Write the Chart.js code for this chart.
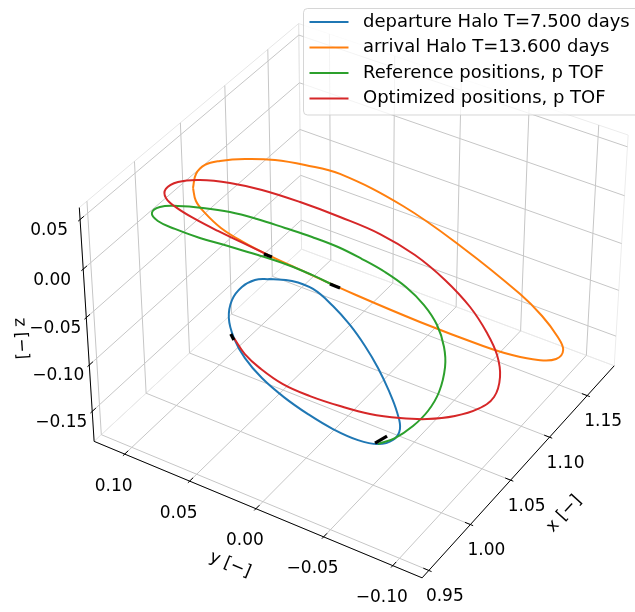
<!DOCTYPE html>
<html>
<head>
<meta charset="utf-8">
<script src="https://cdn.jsdelivr.net/npm/chart.js@4.4.0/dist/chart.umd.min.js"></script>
<style>
  html, body { margin: 0; padding: 0; background: #fff; }
  canvas { display: block; }
</style>
</head>
<body>
<canvas id="orbitChart" width="635" height="612"></canvas>
<script>
// axis ticks and limits
const xTicks = [0.95, 1.0, 1.05, 1.1, 1.15];
const yTicks = [-0.1, -0.05, 0.0, 0.05, 0.1];
const zTicks = [-0.15, -0.1, -0.05, 0.0, 0.05];
const xLim = [0.947, 1.182];
const yLim = [-0.116, 0.119];
const zLim = [-0.178, 0.057];

// departure halo T=7.5 days
const depX = [1.0204, 1.0306, 1.0379, 1.0411, 1.0420, 1.0411, 1.0388, 1.0351, 1.0307, 1.0254, 1.0175, 1.0084, 1.0000, 0.9919, 0.9854, 0.9802, 0.9768, 0.9763, 0.9788, 0.9843, 0.9930, 1.0032, 1.0125];
const depY = [0.0386, 0.0290, 0.0181, 0.0054, -0.0066, -0.0183, -0.0294, -0.0398, -0.0485, -0.0540, -0.0537, -0.0483, -0.0388, -0.0255, -0.0113, 0.0030, 0.0168, 0.0288, 0.0384, 0.0456, 0.0489, 0.0482, 0.0446];
const depZ = [-0.0313, -0.0368, -0.0456, -0.0594, -0.0737, -0.0888, -0.1040, -0.1194, -0.1331, -0.1434, -0.1481, -0.1471, -0.1405, -0.1288, -0.1150, -0.1003, -0.0849, -0.0702, -0.0567, -0.0446, -0.0352, -0.0300, -0.0287];

// arrival halo T=13.6 days
const arrX = [1.0183, 1.0254, 1.0335, 1.0426, 1.0559, 1.0705, 1.0835, 1.0974, 1.1161, 1.1293, 1.1394, 1.1416, 1.1411, 1.1385, 1.1314, 1.1220, 1.1110, 1.1001, 1.0782, 1.0570, 1.0378, 1.0290, 1.0217, 1.0163, 1.0143, 1.0146];
const arrY = [0.0934, 0.0958, 0.0945, 0.0893, 0.0795, 0.0667, 0.0528, 0.0355, 0.0000, -0.0371, -0.0743, -0.0897, -0.1015, -0.1077, -0.1066, -0.0986, -0.0855, -0.0702, -0.0362, -0.0017, 0.0306, 0.0456, 0.0592, 0.0718, 0.0822, 0.0889];
const arrZ = [0.0357, 0.0430, 0.0464, 0.0458, 0.0422, 0.0360, 0.0275, 0.0159, -0.0145, -0.0503, -0.0883, -0.1055, -0.1203, -0.1298, -0.1339, -0.1311, -0.1232, -0.1122, -0.0859, -0.0577, -0.0302, -0.0172, -0.0048, 0.0075, 0.0192, 0.0277];

// reference transfer
const refX = [1.0084, 1.0193, 1.0331, 1.0466, 1.0597, 1.0727, 1.0802, 1.0855, 1.0870, 1.0852, 1.0807, 1.0744, 1.0672, 1.0582, 1.0483, 1.0379, 1.0272, 1.0153, 1.0036, 0.9942, 0.9878, 0.9876, 0.9929, 1.0018, 1.0126, 1.0240, 1.0350, 1.0430, 1.0495];
const refY = [-0.0483, -0.0541, -0.0589, -0.0617, -0.0619, -0.0584, -0.0530, -0.0445, -0.0338, -0.0214, -0.0085, 0.0047, 0.0180, 0.0316, 0.0453, 0.0593, 0.0722, 0.0843, 0.0949, 0.1018, 0.1034, 0.0990, 0.0901, 0.0778, 0.0643, 0.0497, 0.0347, 0.0221, 0.0106];
const refZ = [-0.1471, -0.1474, -0.1444, -0.1390, -0.1303, -0.1171, -0.1052, -0.0910, -0.0768, -0.0628, -0.0500, -0.0380, -0.0264, -0.0156, -0.0052, 0.0054, 0.0147, 0.0224, 0.0285, 0.0316, 0.0299, 0.0242, 0.0163, 0.0061, -0.0041, -0.0152, -0.0269, -0.0374, -0.0473];

// optimized transfer
const optX = [0.9788, 0.9779, 0.9798, 0.9849, 0.9936, 1.0046, 1.0164, 1.0298, 1.0429, 1.0581, 1.0724, 1.0852, 1.0962, 1.1035, 1.1073, 1.1092, 1.1075, 1.1025, 1.0934, 1.0802, 1.0662, 1.0520, 1.0388, 1.0250, 1.0132, 1.0044, 1.0008, 1.0023, 1.0069, 1.0136, 1.0213, 1.0290];
const optY = [0.0384, 0.0299, 0.0202, 0.0067, -0.0076, -0.0227, -0.0374, -0.0513, -0.0633, -0.0748, -0.0833, -0.0876, -0.0854, -0.0787, -0.0688, -0.0548, -0.0369, -0.0174, 0.0031, 0.0247, 0.0455, 0.0646, 0.0796, 0.0927, 0.1010, 0.1041, 0.1017, 0.0948, 0.0847, 0.0723, 0.0590, 0.0456];
const optZ = [-0.0567, -0.0680, -0.0790, -0.0929, -0.1054, -0.1175, -0.1284, -0.1371, -0.1434, -0.1475, -0.1481, -0.1443, -0.1338, -0.1203, -0.1053, -0.0867, -0.0660, -0.0457, -0.0268, -0.0093, 0.0069, 0.0211, 0.0313, 0.0388, 0.0420, 0.0405, 0.0354, 0.0276, 0.0178, 0.0064, -0.0054, -0.0172];

// short black segments at departure / arrival points (pairs)
const markX = [1.0274, 1.0302, 1.0484, 1.0518, 0.9789, 0.9780, 1.0073, 1.0161];
const markY = [0.0475, 0.0434, 0.0122, 0.0069, 0.0407, 0.0379, -0.0468, -0.0502];
const markZ = [-0.0159, -0.0192, -0.0462, -0.0505, -0.0539, -0.0578, -0.1459, -0.1445];

// view
const elevDeg = 37, azimDeg = -148, eyeDist = 10;
const boxAspect = [8 / 7, 8 / 7, 6 / 7];
const view = { left: -0.109985, right: 0.0851, bottom: -0.098925, top: 0.089094 };

const el = elevDeg * Math.PI / 180, az = azimDeg * Math.PI / 180;
const w = [Math.cos(el) * Math.cos(az), Math.cos(el) * Math.sin(az), Math.sin(el)];
const u = [-Math.sin(az), Math.cos(az), 0];
const v = [w[1] * u[2] - w[2] * u[1], w[2] * u[0] - w[0] * u[2], w[0] * u[1] - w[1] * u[0]];

function project(x, y, z) {
  const b = [
    ((x - xLim[0]) / (xLim[1] - xLim[0]) - 0.5) * boxAspect[0],
    ((y - yLim[0]) / (yLim[1] - yLim[0]) - 0.5) * boxAspect[1],
    ((z - zLim[0]) / (zLim[1] - zLim[0]) - 0.5) * boxAspect[2],
  ];
  const dot = (a) => a[0] * b[0] + a[1] * b[1] + a[2] * b[2];
  const depth = eyeDist - dot(w);
  return { x: dot(u) / depth, y: dot(v) / depth };
}

function toPoints(xs, ys, zs, closed) {
  const pts = xs.map((x, i) => project(x, ys[i], zs[i]));
  if (closed) pts.push(pts[0]);
  return pts;
}

const colors = { blue: "#1f77b4", orange: "#ff7f0e", green: "#2ca02c", red: "#d62728" };

function curve(label, color, pts, order) {
  return {
    label: label,
    data: pts,
    showLine: true,
    borderColor: color,
    backgroundColor: color,
    borderWidth: 2,
    pointRadius: 0,
    tension: 0.4,
    order: order,
  };
}

const datasets = [
  curve("departure Halo T=7.500 days", colors.blue, toPoints(depX, depY, depZ, true), 4),
  curve("arrival Halo T=13.600 days", colors.orange, toPoints(arrX, arrY, arrZ, true), 3),
  curve("Reference positions, p TOF", colors.green, toPoints(refX, refY, refZ, false), 2),
  curve("Optimized positions, p TOF", colors.red, toPoints(optX, optY, optZ, false), 1),
];
for (let i = 0; i < markX.length; i += 2) {
  const seg = curve("", "#000000", toPoints(markX.slice(i, i + 2), markY.slice(i, i + 2), markZ.slice(i, i + 2), false), 0);
  seg.borderWidth = 3.2;
  seg.tension = 0;
  datasets.push(seg);
}

// extended box (panes sit slightly outside the limits)
const ext = (lim) => [lim[0] - (lim[1] - lim[0]) / 48, lim[1] + (lim[1] - lim[0]) / 48];
const xE = ext(xLim), yE = ext(yLim), zE = ext(zLim);
const dX = (xLim[1] - xLim[0]) / 12, dY = (yLim[1] - yLim[0]) / 12;

function pix(chart, p3) {
  const p = project(p3[0], p3[1], p3[2]);
  return [chart.scales.x.getPixelForValue(p.x), chart.scales.y.getPixelForValue(p.y)];
}
function seg3(chart, ctx, a, b) {
  const pa = pix(chart, a), pb = pix(chart, b);
  ctx.beginPath();
  ctx.moveTo(pa[0], pa[1]);
  ctx.lineTo(pb[0], pb[1]);
  ctx.stroke();
}
function poly3(chart, ctx, corners, edge) {
  ctx.beginPath();
  corners.forEach((c, i) => {
    const p = pix(chart, c);
    if (i === 0) ctx.moveTo(p[0], p[1]); else ctx.lineTo(p[0], p[1]);
  });
  ctx.closePath();
  ctx.strokeStyle = edge;
  ctx.lineWidth = 1;
  ctx.stroke();
}
const fmt = (t) => t.toFixed(2).replace("-", "\u2212");

const boxPlugin = {
  id: "box3d",
  beforeDatasetsDraw(chart) {
    const ctx = chart.ctx;
    ctx.save();
    // pane outlines
    poly3(chart, ctx, [[xE[1], yE[0], zE[0]], [xE[1], yE[1], zE[0]], [xE[1], yE[1], zE[1]], [xE[1], yE[0], zE[1]]], "#ececec");
    poly3(chart, ctx, [[xE[0], yE[1], zE[0]], [xE[1], yE[1], zE[0]], [xE[1], yE[1], zE[1]], [xE[0], yE[1], zE[1]]], "#e6e6e6");
    poly3(chart, ctx, [[xE[0], yE[0], zE[0]], [xE[1], yE[0], zE[0]], [xE[1], yE[1], zE[0]], [xE[0], yE[1], zE[0]]], "#e9e9e9");
    // grid
    ctx.strokeStyle = "#c6c6c6";
    ctx.lineWidth = 1;
    xTicks.forEach((t) => {
      seg3(chart, ctx, [t, yE[0], zE[0]], [t, yE[1], zE[0]]);
      seg3(chart, ctx, [t, yE[1], zE[0]], [t, yE[1], zE[1]]);
    });
    yTicks.forEach((t) => {
      seg3(chart, ctx, [xE[0], t, zE[0]], [xE[1], t, zE[0]]);
      seg3(chart, ctx, [xE[1], t, zE[0]], [xE[1], t, zE[1]]);
    });
    zTicks.forEach((t) => {
      seg3(chart, ctx, [xE[1], yE[0], t], [xE[1], yE[1], t]);
      seg3(chart, ctx, [xE[0], yE[1], t], [xE[1], yE[1], t]);
    });
    // axis lines and ticks
    ctx.strokeStyle = "#000";
    ctx.lineWidth = 1;
    seg3(chart, ctx, [xE[0], yE[0], zE[0]], [xE[1], yE[0], zE[0]]);
    seg3(chart, ctx, [xE[0], yE[0], zE[0]], [xE[0], yE[1], zE[0]]);
    seg3(chart, ctx, [xE[0], yE[1], zE[0]], [xE[0], yE[1], zE[1]]);
    xTicks.forEach((t) => seg3(chart, ctx, [t, yE[0] - 0.1 * dY, zE[0]], [t, yE[0] + 0.2 * dY, zE[0]]));
    yTicks.forEach((t) => seg3(chart, ctx, [xE[0] - 0.1 * dX, t, zE[0]], [xE[0] + 0.2 * dX, t, zE[0]]));
    zTicks.forEach((t) => seg3(chart, ctx, [xE[0] - 0.1 * dX, yE[1], t], [xE[0] + 0.2 * dX, yE[1], t]));
    ctx.restore();
  },
  afterDraw(chart) {
    const ctx = chart.ctx;
    ctx.save();
    ctx.fillStyle = "#000";
    ctx.font = '17px "DejaVu Sans"';
    ctx.textAlign = "center";
    ctx.textBaseline = "middle";
    xTicks.forEach((t) => {
      const p = pix(chart, [t, yE[0], zE[0]]);
      ctx.fillText(fmt(t), p[0] + 16, p[1] + 26);
    });
    yTicks.forEach((t) => {
      const p = pix(chart, [xE[0], t, zE[0]]);
      ctx.fillText(fmt(t), p[0] - 11, p[1] + 32);
    });
    zTicks.forEach((t) => {
      const p = pix(chart, [xE[0], yE[1], t]);
      ctx.fillText(fmt(t), p[0] - 31, p[1] + 11);
    });
    // axis titles, rotated along their axis
    const axisTitle = (text, a, b, ox, oy) => {
      const pa = pix(chart, a), pb = pix(chart, b);
      let ang = Math.atan2(pb[1] - pa[1], pb[0] - pa[0]);
      if (ang > Math.PI / 2) ang -= Math.PI;
      if (ang < -Math.PI / 2) ang += Math.PI;
      ctx.save();
      ctx.translate((pa[0] + pb[0]) / 2 + ox, (pa[1] + pb[1]) / 2 + oy);
      ctx.rotate(ang);
      ctx.fillText(text, 0, 0);
      ctx.restore();
    };
    axisTitle("x [\u2212]", [xE[0], yE[0], zE[0]], [xE[1], yE[0], zE[0]], 46, 42);
    axisTitle("y [\u2212]", [xE[0], yE[0], zE[0]], [xE[0], yE[1], zE[0]], -28, 55);
    axisTitle("z [\u2212]", [xE[0], yE[1], zE[0]], [xE[0], yE[1], zE[1]], -66, 14);
    // legend
    const left = 303.5, top = 8.5, rowH = 25.5;
    ctx.beginPath();
    ctx.roundRect(left, top, 345, 106.5, 4);
    ctx.fillStyle = "rgba(255,255,255,0.8)";
    ctx.fill();
    ctx.strokeStyle = "rgba(204,204,204,0.8)";
    ctx.lineWidth = 1;
    ctx.stroke();
    ctx.textAlign = "left";
    ctx.font = '18px "DejaVu Sans"';
    chart.data.datasets.slice(0, 4).forEach((ds, i) => {
      const y = top + 13.5 + i * rowH;
      ctx.strokeStyle = ds.borderColor;
      ctx.lineWidth = 2;
      ctx.beginPath();
      ctx.moveTo(left + 6, y);
      ctx.lineTo(left + 45, y);
      ctx.stroke();
      ctx.fillStyle = "#000";
      ctx.fillText(ds.label, left + 59.5, y);
    });
    ctx.restore();
  },
};

new Chart(document.getElementById("orbitChart"), {
  type: "scatter",
  data: { datasets: datasets },
  options: {
    responsive: false,
    animation: false,
    devicePixelRatio: 1,
    layout: { padding: 0 },
    scales: {
      x: { type: "linear", min: view.left, max: view.right, display: false },
      y: { type: "linear", min: view.bottom, max: view.top, display: false },
    },
    plugins: { legend: { display: false }, tooltip: { enabled: false } },
  },
  plugins: [boxPlugin],
});
</script>
</body>
</html>
